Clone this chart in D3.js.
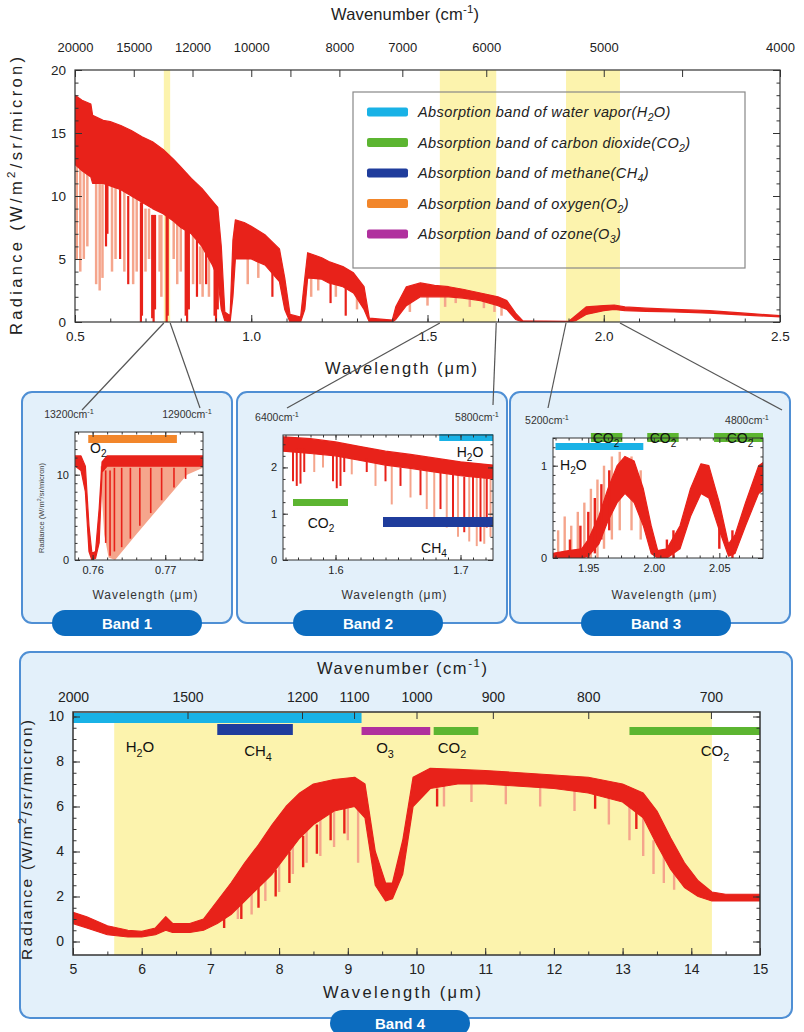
<!DOCTYPE html>
<html lang="en">
<head>
<meta charset="utf-8">
<title>Solar radiance and absorption bands</title>
<script src="https://cdn.jsdelivr.net/npm/d3@7"></script>
<style>
  body { margin: 0; background: #fff; }
  svg { font-family: "Liberation Sans", Arial, sans-serif; }
</style>
</head>
<body>
<script>
// ---------- data ----------
var gasNames  = ["H2O", "CO2", "CH4", "O2", "O3"];
var gasWords  = ["water vapor", "carbon dioxide", "methane", "oxygen", "ozone"];
var gasColors = ["#19b2e6", "#5cb531", "#1f3c9c", "#f2862a", "#b0309e"];

// overview spectrum (wavelength um, top of dense core, bottom of dense core)
var topWl = [0.50,0.52,0.545,0.55,0.58, 0.60,0.63,0.66,0.69,0.72, 0.75,0.78,0.80,0.83,0.86, 0.89,0.905,0.915,0.925,0.94,
             0.948,0.955,0.98,1.00,1.04, 1.08,1.095,1.11,1.14,1.152, 1.16,1.20,1.22,1.26,1.29, 1.32,1.335,1.40,1.41,1.44,
             1.48,1.52,1.56,1.60,1.65, 1.70,1.725,1.75,1.77,1.90, 1.92,1.95,2.00,2.03,2.06, 2.12,2.20,2.30,2.40,2.50];
var topHi = [18.0,17.6,17.3,16.4,16.0, 15.9,15.6,15.2,14.7,14.3, 13.7,12.9,12.3,11.4,10.6, 9.6,9.1,6.0,0.8,0.5,
             6.5,8.1,7.9,7.6,6.9, 5.8,3.5,0.6,0.4,3.5, 5.5,5.1,4.8,4.4,3.9, 2.8,0.3,0.15,1.2,2.8,
             3.1,2.9,2.8,2.6,2.3, 2.0,1.7,0.7,0.1,0.05, 0.5,1.2,1.3,1.35,1.2, 1.1,1.0,0.9,0.7,0.5];
var topLo = [12.5,12.0,11.5,11.0,11.0, 10.8,10.5,10.0,9.5,9.0, 8.6,8.0,7.5,7.0,6.0, 4.5,3.5,1.0,0.1,0,
             2.0,5.0,5.0,5.0,4.5, 3.2,1.0,0,0,1.0, 3.5,3.4,3.1,2.8,2.3, 1.0,0,0,0.2,1.3,
             2.0,2.0,2.0,1.9,1.7, 1.3,1.0,0.2,0,0, 0.1,0.6,0.9,1.0,0.9, 0.85,0.8,0.7,0.55,0.4];
// absorption lines [wavelength, from, to]
var topRedLines = [[0.588,11,6],[0.592,11,7],[0.628,10.5,5],[0.651,10,3],[0.687,9.5,0],[0.690,9.5,0.5],
                   [0.719,8.5,0.3],[0.723,8.5,0],[0.727,8.5,1],[0.760,8.5,0],[0.763,8.5,0.5],[0.814,7.5,0.5],
                   [0.818,7.5,0],[0.823,7.3,1],[0.846,6.5,2],[0.872,5.5,3],[0.896,4.5,0.5],[0.900,4,0],
                   [0.905,4,1],[1.06,4,2],[1.225,3.2,1.5],[1.268,2.8,0.5]];
var topPaleLines = [[0.505,13,5],[0.515,13,4],[0.525,12.5,5],[0.535,12,6],[0.56,11,3],[0.57,11,2.5],[0.578,11,3.5],
                    [0.605,11,4],[0.615,11,5],[0.64,10.5,4],[0.665,10,3],[0.675,10,4],[0.70,9,4],[0.71,9,5],
                    [0.74,8.5,4],[0.745,8.5,2],[0.78,8,5],[0.79,8,3],[0.80,7.5,4],[0.835,7,3],[0.855,6,3],
                    [0.862,6,2],[0.88,5,2],[0.99,5,3],[1.02,4.8,3.5],[1.17,3.5,2],[1.19,3.5,2.5],[1.24,3,2],
                    [1.30,2,1],[1.45,1.5,0.8],[1.50,2,1.3],[1.55,2,1.2],[1.58,2,1.5],[1.62,1.8,1.2],
                    [1.66,1.7,1.1],[1.69,1.5,0.8],[1.71,1.3,0.5]];
var topWnTicks  = [20000, 15000, 12000, 10000, 9000, 8000, 7000, 6000, 5000, 4500, 4000];
var topWnLabels = [20000, 15000, 12000, 10000, 8000, 7000, 6000, 5000, 4000];
var topXTicks = [0.5, 1.0, 1.5, 2.0, 2.5];
var topYTicks = [0, 5, 10, 15, 20];
var zoomWindows = [[0.752, 0.770], [1.535, 1.695], [1.893, 2.046]];

// band 1 (O2 A band)
var b1Edge = [13200, 12900];
var b1Wl = [0.7576,0.7584,0.7590,0.7595,0.7599,0.7604,0.7609,0.7613,0.7620,0.7660,0.7700,0.7752];
var b1Hi = [12.2,12.2,11.0,4.0,0.8,1.0,6.0,11.5,12.2,12.2,12.2,12.2];
var b1Lo = [11.0,10.5,8.0,1.0,0.0,0.2,2.0,10.3,11.0,11.0,11.0,11.0];
var b1PaleWl  = [0.7611,0.7616,0.7622,0.7631,0.7660,0.7700,0.7730,0.7752];
var b1PaleTop = [11,11,11,11,11,11,11,11];
var b1PaleLo  = [10,3,0.3,0,3,7,10,10.8];
var b1RedLines = [[0.7618,10.5,2],[0.7624,10.5,0.5],[0.7630,10.8,1],[0.7640,10.8,1.5],[0.7652,10.8,2.5],
                  [0.7665,10.8,4],[0.7680,10.8,5.5],[0.7695,10.8,7],[0.7712,10.8,8.5],[0.7728,10.8,9.5]];
var b1Bars = [["O2", 0.7594, 0.7716]];

// band 2
var b2Edge = [6400, 5800];
var b2Wl = [1.558,1.580,1.600,1.620,1.640,1.660,1.680,1.700,1.726];
var b2Hi = [2.66,2.62,2.55,2.45,2.35,2.28,2.20,2.12,2.05];
var b2Lo = [2.35,2.30,2.25,2.15,2.05,1.98,1.90,1.82,1.75];
var b2RedLines = [[1.566,2.4,1.7],[1.569,2.4,1.6],[1.572,2.4,1.65],[1.575,2.4,1.9],[1.598,2.3,1.7],[1.601,2.3,1.55],
                  [1.604,2.3,1.6],[1.607,2.3,1.9],[1.625,2.2,1.9],[1.640,2.05,1.7],[1.652,2.0,1.6],[1.668,1.95,1.4],
                  [1.684,1.9,1.1],[1.694,1.85,0.9],[1.703,1.8,0.6],[1.710,1.8,0.9],[1.716,1.78,0.4],[1.721,1.76,0.7]];
var b2PaleLines = [[1.583,2.3,1.9],[1.590,2.3,2.0],[1.613,2.2,1.85],[1.632,2.1,1.6],[1.645,2.05,1.2],[1.660,2.0,1.35],
                   [1.673,1.95,1.1],[1.679,1.9,0.9],[1.689,1.88,0.7],[1.698,1.85,0.5],[1.707,1.8,0.4],[1.713,1.8,0.3],
                   [1.719,1.78,0.35],[1.724,1.75,0.5]];
var b2Bars = [["H2O", 1.683, 1.726], ["CO2", 1.566, 1.610], ["CH4", 1.638, 1.726]];

// band 3
var b3Edge = [5200, 4800];
var b3Wl = [1.923,1.935,1.945,1.950,1.958,1.965,1.972,1.978,1.985,1.992,1.998,2.003,2.010,2.020,2.028,2.036,2.042,2.050,2.057,2.062,2.070,2.080,2.085];
var b3Hi = [0.05,0.08,0.1,0.2,0.45,0.75,1.0,1.1,1.05,0.75,0.35,0.08,0.1,0.35,0.75,1.02,1.0,0.6,0.15,0.25,0.6,1.0,1.05];
var b3Lo = [0,0,0,0.02,0.15,0.4,0.6,0.7,0.6,0.35,0.05,0,0,0.1,0.45,0.7,0.65,0.3,0.02,0.05,0.35,0.7,0.75];
var b3PaleLines = [[1.927,0,0.3],[1.932,0,0.45],[1.937,0,0.35],[1.942,0,0.5],[1.947,0,0.6],[1.952,0,0.75],
                   [1.957,0,0.85],[1.962,0.1,1.0],[1.968,0.2,1.1],[1.974,0.3,1.15],[1.983,0.3,1.1],[1.990,0.2,0.95]];
var b3RedLines = [[1.936,0,0.2],[1.944,0,0.35],[1.950,0,0.5],[1.955,0.05,0.65],[1.960,0.2,0.8],[1.966,0.3,0.95],
                  [2.010,0,0.2],[2.015,0,0.3],[2.050,0.1,0.5],[2.060,0,0.3]];
var b3Bars = [["H2O", 1.925, 1.992], ["CO2", 1.952, 1.976], ["CO2", 1.995, 2.019], ["CO2", 2.046, 2.085]];

// band 4 (thermal infrared)
var b4Wl = [5.0,5.2,5.5,5.8,6.0, 6.2,6.35,6.45,6.7,6.9, 7.1,7.3,7.5,7.7,7.9, 8.1,8.3,8.5,8.8,9.1,
            9.25,9.4,9.55,9.65,9.8, 9.95,10.2,10.6,11.0,11.5, 12.0,12.5,13.0,13.3,13.5, 13.7,13.9,14.1,14.3,14.5, 15.0];
var b4Hi = [1.3,1.1,0.7,0.5,0.45, 0.6,1.1,0.8,0.8,1.0, 1.8,2.6,3.5,4.3,5.2, 6.0,6.6,7.0,7.2,7.3,
            7.0,4.0,2.6,2.6,4.5, 7.3,7.7,7.65,7.6,7.5, 7.4,7.3,7.0,6.6,5.8, 4.6,3.5,2.7,2.2,2.1, 2.1];
var b4Lo = [0.8,0.6,0.3,0.2,0.2, 0.3,0.5,0.4,0.4,0.5, 0.8,1.2,1.8,2.4,3.0, 3.8,4.6,5.2,5.8,6.0,
            5.5,2.5,1.8,1.9,3.0, 6.0,6.8,7.0,7.0,6.9, 6.8,6.6,6.2,5.5,4.3, 3.2,2.4,2.0,1.8,1.8, 1.8];
var b4PaleLines = [[7.4,2,1.0],[7.6,2.6,1.2],[7.8,3,1.8],[8.0,3.6,2.2],[8.2,4.4,3],[8.4,5,3.5],[8.6,5.4,3.8],
                   [8.8,5.8,4.2],[9.0,6,4.5],[9.15,6,3.5],[10.4,7,6],[10.8,7,6.2],[11.3,7,6.1],[11.8,6.9,6],
                   [12.3,6.7,5.8],[12.8,6.4,5.2],[13.1,6.1,4.5],[13.3,5.6,3.8],[13.45,4.5,3],[13.6,3.8,2.6],[13.75,3.2,2.3]];
var b4RedLines = [[7.2,1.2,0.6],[7.45,1.9,1],[7.7,2.5,1.5],[7.95,3.2,2],[8.15,4,2.6],[8.35,4.7,3.3],[8.55,5.2,3.9],
                  [8.75,5.8,4.5],[8.95,6,4.8],[10.3,6.8,6],[12.6,6.6,5.9],[13.2,6,5]];
var b4Bars = [["H2O", 5.0, 9.2], ["CH4", 7.1, 8.2], ["O3", 9.2, 10.2], ["CO2", 10.25, 10.9], ["CO2", 13.1, 15.0]];
var b4Window = [5.6, 14.3];
var b4WnTicks = [2000, 1500, 1200, 1100, 1000, 900, 800, 700];
var b4XTicks = [5, 6, 7, 8, 9, 10, 11, 12, 13, 14, 15];
var b4YTicks = [0, 2, 4, 6, 8, 10];

// ---------- drawing ----------
var red = "#e8221a", pale = "#f5a58c", yellow = "#fcf3ad";
var gasColor = {};
gasNames.forEach(function(n, i) { gasColor[n] = gasColors[i]; });

var svg = d3.select("body").append("svg").attr("width", 804).attr("height", 1032);
var defs = svg.append("defs");
var clipN = 0;

function clipFor(x, y) {
  var id = "clip" + (clipN++);
  defs.append("clipPath").attr("id", id).append("rect")
    .attr("x", x.range()[0]).attr("y", y.range()[1])
    .attr("width", x.range()[1] - x.range()[0]).attr("height", y.range()[0] - y.range()[1]);
  return "url(#" + id + ")";
}

// chemical formula with subscripts
function chem(sel, s, fs) {
  var low = false;
  s.match(/[^0-9]+|[0-9]+/g).forEach(function(p) {
    var num = /^[0-9]+$/.test(p);
    var t = sel.append("tspan").text(p);
    if (num && !low) { t.attr("dy", fs * 0.3).attr("font-size", fs * 0.72); low = true; }
    else if (!num && low) { t.attr("dy", -fs * 0.3); low = false; }
  });
}
function supText(sel, base, exp, tail, fs) {
  sel.append("tspan").text(base);
  sel.append("tspan").attr("dy", -fs * 0.4).attr("font-size", fs * 0.7).text(exp);
  sel.append("tspan").attr("dy", fs * 0.4).text(tail);
}
// axis title stretched to the width it has in the figure
function title(tf, fs, len) {
  return svg.append("text").attr("transform", tf).attr("text-anchor", "middle").attr("font-size", fs)
    .attr("fill", "#222").attr("textLength", len).attr("lengthAdjust", "spacing");
}

function frame(g, x, y, o) {
  var X0 = x.range()[0], X1 = x.range()[1], Yb = y.range()[0], Yt = y.range()[1];
  var t = o.tick;
  function tidy(sel) {
    sel.attr("font-family", null).attr("font-size", null);
    sel.select(".domain").remove();
    sel.selectAll("line").attr("stroke", "#333");
    sel.selectAll("text").attr("font-size", o.fs).attr("fill", "#222");
  }
  function put(axis, tx, ty) {
    return g.append("g").attr("transform", "translate(" + tx + "," + ty + ")").call(axis).call(tidy);
  }
  put(d3.axisBottom(x).tickValues(o.xMinor).tickSize(-t / 2).tickFormat(""), 0, Yb);
  if (!o.wn) put(d3.axisTop(x).tickValues(o.xMinor).tickSize(-t / 2).tickFormat(""), 0, Yt);
  put(d3.axisLeft(y).tickValues(o.yMinor).tickSize(-t / 2).tickFormat(""), X0, 0);
  put(d3.axisRight(y).tickValues(o.yMinor).tickSize(-t / 2).tickFormat(""), X1, 0);
  put(d3.axisBottom(x).tickValues(o.xTicks).tickSize(-t).tickPadding(o.pad).tickFormat(d3.format(o.xFmt)), 0, Yb);
  put(d3.axisLeft(y).tickValues(o.yTicks).tickSize(-t).tickPadding(o.pad).tickFormat(d3.format(o.yFmt)), X0, 0);
  put(d3.axisRight(y).tickValues(o.yTicks).tickSize(-t).tickFormat(""), X1, 0);
  if (o.wn) {
    var ax = put(d3.axisTop(x).tickValues(o.wn.map(function(w) { return 1e4 / w; }))
      .tickSize(-t).tickPadding(o.wnPad)
      .tickFormat(function(d, i) { return o.wnLabels.indexOf(o.wn[i]) >= 0 ? o.wn[i] : ""; }), 0, Yt);
    ax.selectAll("text").attr("font-size", o.wnFs);
  } else {
    put(d3.axisTop(x).tickValues(o.xTicks).tickSize(-t).tickFormat(""), 0, Yt);
  }
  g.append("rect").attr("x", X0).attr("y", Yt).attr("width", X1 - X0).attr("height", Yb - Yt)
    .attr("fill", "none").attr("stroke", "#333").attr("stroke-width", o.sw || 1.2);
}

function drawSpectrum(g, x, y, s) {
  var layer = g.append("g").attr("clip-path", clipFor(x, y));
  if (s.paleArea) {
    layer.append("path")
      .datum(s.paleArea[0].map(function(w, i) { return [w, s.paleArea[1][i], s.paleArea[2][i]]; }))
      .attr("fill", pale)
      .attr("d", d3.area().x(function(d) { return x(d[0]); })
        .y0(function(d) { return y(d[2]); }).y1(function(d) { return y(d[1]); }));
  }
  layer.selectAll("line.pale").data(s.pale || []).join("line").attr("class", "pale")
    .attr("x1", function(d) { return x(d[0]); }).attr("x2", function(d) { return x(d[0]); })
    .attr("y1", function(d) { return y(d[1]); }).attr("y2", function(d) { return y(d[2]); })
    .attr("stroke", pale).attr("stroke-width", s.lw || 2.5);
  layer.append("path")
    .datum(s.wl.map(function(w, i) { return [w, s.hi[i], s.lo[i]]; }))
    .attr("fill", red).attr("stroke", red).attr("stroke-width", 1.2).attr("stroke-linejoin", "round")
    .attr("d", d3.area().x(function(d) { return x(d[0]); })
      .y0(function(d) { return y(d[2]); }).y1(function(d) { return y(d[1]); }));
  layer.selectAll("line.red").data(s.red || []).join("line").attr("class", "red")
    .attr("x1", function(d) { return x(d[0]); }).attr("x2", function(d) { return x(d[0]); })
    .attr("y1", function(d) { return y(d[1]); }).attr("y2", function(d) { return y(d[2]); })
    .attr("stroke", red).attr("stroke-width", s.lw || 2.2);
}

function box(bx, by, bw, bh) {
  svg.append("rect").attr("x", bx).attr("y", by).attr("width", bw).attr("height", bh).attr("rx", 10)
    .attr("fill", "#e3f0fa").attr("stroke", "#4f8fd4").attr("stroke-width", 2);
}
function pill(cx, cy, w, label) {
  svg.append("rect").attr("x", cx - w / 2).attr("y", cy - 13).attr("width", w).attr("height", 26)
    .attr("rx", 13).attr("fill", "#0c6cbf");
  svg.append("text").attr("x", cx).attr("y", cy + 5.5).attr("text-anchor", "middle")
    .attr("font-size", 15).attr("font-weight", "bold").attr("fill", "#fff").text(label);
}

// ----- panel boxes (behind everything) -----
box(22, 392, 210, 231);
box(237, 392, 270, 231);
box(510, 392, 280, 231);
box(20, 652, 772, 366);

// ----- overview chart -----
var tx = d3.scaleLinear().domain([0.5, 2.5]).range([75, 780]);
var ty = d3.scaleLinear().domain([0, 20]).range([322, 70]);
var overview = svg.append("g");
overview.append("rect").attr("x", 75).attr("y", 70).attr("width", 705).attr("height", 252).attr("fill", "#fff");
overview.selectAll("rect.win").data(zoomWindows).join("rect").attr("class", "win")
  .attr("x", function(d) { return tx(d[0]); }).attr("width", function(d) { return tx(d[1]) - tx(d[0]); })
  .attr("y", 70).attr("height", 252).attr("fill", yellow);
drawSpectrum(overview, tx, ty, { wl: topWl, hi: topHi, lo: topLo, red: topRedLines, pale: topPaleLines });
frame(overview, tx, ty, {
  tick: 7, fs: 13.5, pad: 9, xTicks: topXTicks, xMinor: d3.range(0.5, 2.51, 0.1),
  yTicks: topYTicks, yMinor: d3.range(0, 20.1, 1), xFmt: ".1f", yFmt: "d",
  wn: topWnTicks, wnLabels: topWnLabels, wnPad: 18, wnFs: 13
});
supText(title("translate(405,20)", 16.5, 148), "Wavenumber (cm", "-1", ")", 16.5);
title("translate(401,374)", 16.5, 152).text("Wavelength (μm)");
supText(title("translate(22,196) rotate(-90)", 16.5, 278), "Radiance (W/m", "2", "/sr/micron)", 16.5);

// legend
var lg = svg.append("g");
lg.append("rect").attr("x", 353).attr("y", 92).attr("width", 392).attr("height", 176)
  .attr("fill", "none").attr("stroke", "#888").attr("stroke-width", 1.2);
var rows = lg.selectAll("g.row").data(gasNames).join("g").attr("class", "row")
  .attr("transform", function(d, i) { return "translate(367," + (112 + i * 30.5) + ")"; });
rows.append("rect").attr("x", 0).attr("y", -4.5).attr("width", 41).attr("height", 9).attr("rx", 2)
  .attr("fill", function(d) { return gasColor[d]; });
rows.append("text").attr("x", 51).attr("y", 5).attr("font-size", 14.5).attr("font-style", "italic")
  .attr("letter-spacing", 0.4).attr("fill", "#222")
  .each(function(d, i) {
    var t = d3.select(this);
    t.append("tspan").text("Absorption band of " + gasWords[i]);
    chem(t, "(" + d + ")", 14.5);
  });

// ----- zoomed band panels -----
var panels = [
  { plot: [75, 203, 432, 560], dom: [1e4 / b1Edge[0], 1e4 / b1Edge[1]], ydom: [0, 15], edge: b1Edge,
    xTicks: [0.76, 0.77], xMinor: d3.range(0.758, 0.7755, 0.002), yTicks: [0, 10], yMinor: d3.range(0, 15.1, 1),
    xFmt: ".2f", spec: { wl: b1Wl, hi: b1Hi, lo: b1Lo, red: b1RedLines, paleArea: [b1PaleWl, b1PaleTop, b1PaleLo], lw: 1.6 },
    bars: b1Bars, barY: [[435, 8]], labels: [["O2", 90, 453, "start"]], pill: 127, ytitle: true },
  { plot: [283, 493, 435, 560], dom: [1.558, 1.726], ydom: [0, 2.7], edge: b2Edge,
    xTicks: [1.6, 1.7], xMinor: d3.range(1.56, 1.727, 0.01), yTicks: [0, 1, 2], yMinor: d3.range(0, 2.71, 0.25),
    xFmt: ".1f", spec: { wl: b2Wl, hi: b2Hi, lo: b2Lo, red: b2RedLines, pale: b2PaleLines, lw: 2 },
    bars: b2Bars, barY: [[434, 7], [499, 7], [517, 10]],
    labels: [["H2O", 470, 457, "middle"], ["CO2", 321, 528, "middle"], ["CH4", 434, 553, "middle"]], pill: 368 },
  { plot: [553, 763, 438, 558], dom: [1e4 / b3Edge[0], 1e4 / b3Edge[1]], ydom: [0, 1.3], edge: b3Edge,
    xTicks: [1.95, 2.0, 2.05], xMinor: d3.range(1.925, 2.084, 0.01), yTicks: [0, 1], yMinor: d3.range(0, 1.31, 0.1),
    xFmt: ".2f", spec: { wl: b3Wl, hi: b3Hi, lo: b3Lo, red: b3RedLines, pale: b3PaleLines, lw: 2.4 },
    bars: b3Bars, barY: [[443, 7], [433, 9], [433, 9], [433, 9]],
    labels: [["H2O", 560, 470, "start"], ["CO2", 606, 443, "middle"], ["CO2", 663, 443, "middle"], ["CO2", 740, 443, "middle"]],
    pill: 656 }
];

panels.forEach(function(p) {
  var g = svg.append("g");
  var x = d3.scaleLinear().domain(p.dom).range([p.plot[0], p.plot[1]]);
  var y = d3.scaleLinear().domain(p.ydom).range([p.plot[3], p.plot[2]]);
  g.append("rect").attr("x", p.plot[0]).attr("y", p.plot[2]).attr("width", p.plot[1] - p.plot[0])
    .attr("height", p.plot[3] - p.plot[2]).attr("fill", "#fff");
  drawSpectrum(g, x, y, p.spec);
  g.selectAll("rect.bar").data(p.bars).join("rect").attr("class", "bar")
    .attr("x", function(d) { return x(d[1]); })
    .attr("width", function(d) { return Math.min(x(d[2]), p.plot[1]) - x(d[1]); })
    .attr("y", function(d, i) { return p.barY[i][0]; })
    .attr("height", function(d, i) { return p.barY[i][1]; })
    .attr("fill", function(d) { return gasColor[d[0]]; });
  frame(g, x, y, { tick: 5, fs: 11, pad: 6, xTicks: p.xTicks, xMinor: p.xMinor, yTicks: p.yTicks,
    yMinor: p.yMinor, xFmt: p.xFmt, yFmt: "d", sw: 1 });
  p.labels.forEach(function(l) {
    chem(g.append("text").attr("x", l[1]).attr("y", l[2]).attr("text-anchor", l[3])
      .attr("font-size", 14).attr("fill", "#111"), l[0], 14);
  });
  supText(g.append("text").attr("x", p.plot[0] - 6).attr("y", p.plot[2] - 14).attr("text-anchor", "middle")
    .attr("font-size", 10.5).attr("fill", "#333"), p.edge[0] + "cm", "-1", "", 10.5);
  supText(g.append("text").attr("x", p.plot[1] - 16).attr("y", p.plot[2] - 14).attr("text-anchor", "middle")
    .attr("font-size", 10.5).attr("fill", "#333"), p.edge[1] + "cm", "-1", "", 10.5);
  g.append("text").attr("x", (p.plot[0] + p.plot[1]) / 2 + 6).attr("y", 599).attr("text-anchor", "middle")
    .attr("font-size", 12).attr("fill", "#333").attr("textLength", 105).text("Wavelength (μm)");
  if (p.ytitle) {
    supText(g.append("text").attr("transform", "translate(44," + ((p.plot[2] + p.plot[3]) / 2 + 12) + ") rotate(-90)")
      .attr("text-anchor", "middle").attr("font-size", 7.5).attr("fill", "#444"), "Radiance (W/m", "2", "/sr/micron)", 7.5);
  }
});

// connectors from the overview windows to the panels
var connectEnds = [[[82, 410], [200, 408]], [[287, 408], [493, 405]], [[548, 408], [782, 410]]];
zoomWindows.forEach(function(w, i) {
  [0, 1].forEach(function(k) {
    svg.append("line").attr("x1", tx(w[k])).attr("y1", 323)
      .attr("x2", connectEnds[i][k][0]).attr("y2", connectEnds[i][k][1])
      .attr("stroke", "#555").attr("stroke-width", 1.2);
  });
});

// ----- band 4 -----
var bx = d3.scaleLinear().domain([5, 15]).range([73, 760]);
var by = d3.scaleLinear().domain([-0.6, 10.2]).range([955, 712]);
var g4 = svg.append("g");
g4.append("rect").attr("x", 73).attr("y", 712).attr("width", 687).attr("height", 243).attr("fill", "#fff");
g4.append("rect").attr("x", bx(b4Window[0])).attr("width", bx(b4Window[1]) - bx(b4Window[0]))
  .attr("y", 712).attr("height", 243).attr("fill", yellow);
drawSpectrum(g4, bx, by, { wl: b4Wl, hi: b4Hi, lo: b4Lo, red: b4RedLines, pale: b4PaleLines, lw: 2.4 });
var b4BarY = [[713, 10], [724, 11], [727, 8], [727, 8], [727, 8]];
g4.selectAll("rect.bar").data(b4Bars).join("rect").attr("class", "bar")
  .attr("x", function(d) { return bx(d[1]); })
  .attr("width", function(d) { return bx(d[2]) - bx(d[1]); })
  .attr("y", function(d, i) { return b4BarY[i][0]; })
  .attr("height", function(d, i) { return b4BarY[i][1]; })
  .attr("fill", function(d) { return gasColor[d[0]]; });
frame(g4, bx, by, {
  tick: 7, fs: 14, pad: 9, xTicks: b4XTicks, xMinor: d3.range(5, 15.01, 0.5),
  yTicks: b4YTicks, yMinor: d3.range(0, 10.01, 0.5), xFmt: "d", yFmt: "d",
  wn: b4WnTicks, wnLabels: b4WnTicks, wnPad: 10, wnFs: 14, sw: 1.5
});
[["H2O", 140, 752], ["CH4", 258, 756], ["O3", 385, 753], ["CO2", 452, 753], ["CO2", 715, 756]].forEach(function(l) {
  chem(g4.append("text").attr("x", l[1]).attr("y", l[2]).attr("text-anchor", "middle")
    .attr("font-size", 15).attr("fill", "#111"), l[0], 15);
});
supText(title("translate(402,674)", 16.5, 170), "Wavenumber (cm", "-1", ")", 16.5);
title("translate(402,998)", 16.5, 158).text("Wavelength (μm)");
supText(title("translate(32,840) rotate(-90)", 15.5, 240), "Radiance (W/m", "2", "/sr/micron)", 15.5);

// ----- band labels -----
pill(127, 623, 150, "Band 1");
pill(368, 623, 150, "Band 2");
pill(656, 623, 150, "Band 3");
pill(400, 1023, 140, "Band 4");
</script>
</body>
</html>
